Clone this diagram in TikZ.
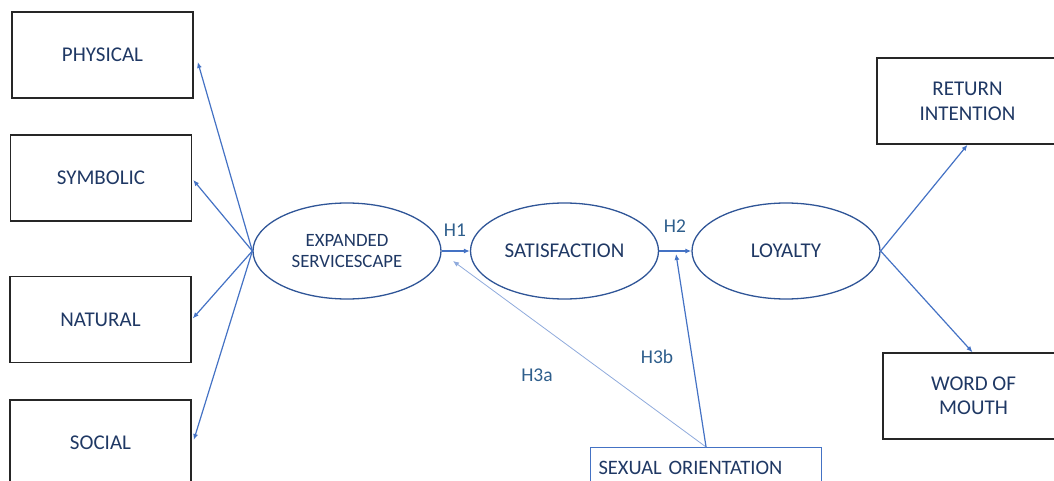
\documentclass[tikz,border=0pt]{standalone}
\usepackage{fontspec}
\setmainfont{Carlito}
\usetikzlibrary{shapes.geometric,arrows.meta,calc}
\definecolor{navy}{HTML}{1F3864}
\definecolor{lblue}{HTML}{2E5E8C}
\definecolor{arrblue}{HTML}{4472C4}
\definecolor{thinblue}{HTML}{8FAADC}
\definecolor{ellblue}{HTML}{2F5597}
\definecolor{boxgray}{HTML}{262626}
\tikzset{
  bigtext/.style={font=\fontsize{21}{25}\selectfont, text=navy},
  box/.style={draw=boxgray, line width=1.5pt, minimum width=181pt, minimum height=86pt, inner sep=0pt, align=center, bigtext},
  ell/.style={draw=ellblue, line width=1.3pt, ellipse, minimum width=188pt, minimum height=96pt, inner sep=0pt, align=center, bigtext},
  arr/.style={draw=arrblue, line width=1.2pt, -{Latex[length=6pt,width=5pt]}},
  thinarr/.style={draw=thinblue, line width=0.8pt, -{Latex[length=6pt,width=5pt]}},
  hlabel/.style={font=\fontsize{19.5}{23}\selectfont, text=lblue},
}
\begin{document}
\begin{tikzpicture}[x=1pt,y=-1pt]
\useasboundingbox (0,0) rectangle (1054,481);
\node[box] (phys) at (102.5,55) {PHYSICAL};
\node[box] (symb) at (101,178) {SYMBOLIC};
\node[box] (natu) at (100.5,319.5) {NATURAL};
\node[box] (soci) at (100.5,443) {SOCIAL};
\node[box] (ret) at (967.5,101) {RETURN\\INTENTION};
\node[box, font=\fontsize{21}{24}\selectfont] (wom) at (973.5,396) {WORD OF\\MOUTH};
\node[ell, font=\fontsize{18.8}{21}\selectfont] (es) at (347,251) {EXPANDED\\SERVICESCAPE};
\node[ell] (sat) at (564.5,251) {SATISFACTION};
\node[ell] (loy) at (786,251) {LOYALTY};
\node[draw=arrblue, line width=1.1pt, minimum width=231pt, minimum height=40pt, inner sep=0pt,
      anchor=north west, bigtext, font=\fontsize{20.5}{24}\selectfont, text width=215pt, align=left] (so) at (590,447) {SEXUAL ORIENTATION};

\draw[arr] (es.west) -- ([xshift=4pt,yshift=-7pt]phys.east);
\draw[arr] (es.west) -- ([xshift=1pt,yshift=-2pt]symb.east);
\draw[arr] (es.west) -- ([xshift=1pt,yshift=1pt]natu.east);
\draw[arr] (es.west) -- ([xshift=2pt,yshift=3pt]soci.east);
\draw[arr] (es.east) -- (sat.west);
\draw[arr] (sat.east) -- (loy.west);
\draw[arr] (loy.east) -- (ret.south);
\draw[arr] (loy.east) -- ([xshift=-1pt]wom.north);
\coordinate (h3aend) at (453,261);
\coordinate (h3bend) at (676,254);
\draw[thinarr] (so.north) -- (h3aend);
\draw[arr] (so.north) -- (h3bend);

\node[hlabel] (h1) at (455,230) {H1};
\node[hlabel] (h2) at (675,226) {H2};
\node[hlabel] (h3a) at (537,375) {H3a};
\node[hlabel] (h3b) at (657,357) {H3b};
\end{tikzpicture}
\end{document}
